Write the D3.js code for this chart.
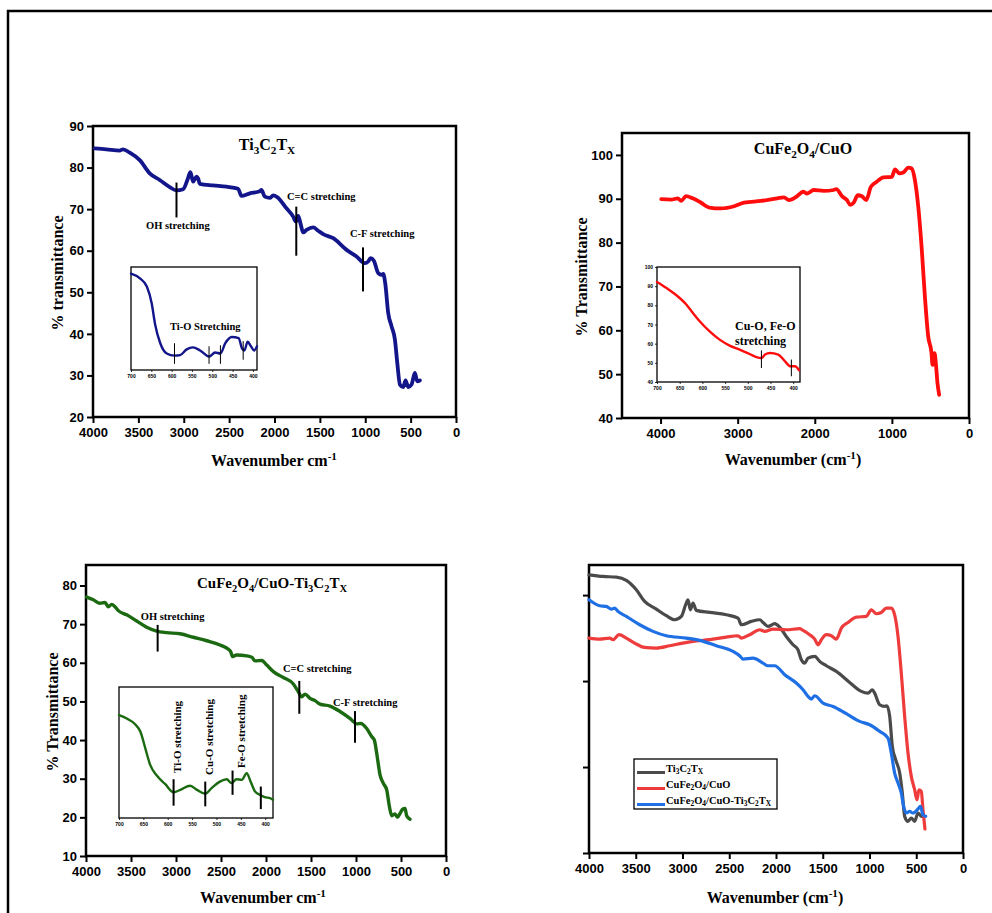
<!DOCTYPE html>
<html>
<head>
<meta charset="utf-8">
<script src="https://cdn.jsdelivr.net/npm/d3@7"></script>
<style>
  body { margin: 0; background: #fff; }
  svg { display: block; }
</style>
</head>
<body>
<svg id="chart" width="992" height="913"></svg>
<script>
// ---- data (wavenumber cm-1, % transmittance) ----
var tiSeries = [[3982,84.6],[3853,84.4],[3706,84.1],[3669,84.4],[3596,83.6],[3485,81.8],[3375,78.6],[3265,77.0],
  [3154,75.3],[3081,74.5],[3007,74.8],[2960,77.0],[2927,78.9],[2897,76.6],[2860,77.8],[2842,77.4],[2824,76.1],
  [2677,75.7],[2530,75.4],[2401,74.9],[2364,73.2],[2272,73.8],[2162,74.3],[2144,74.6],[2107,73.0],[2052,72.7],
  [2015,73.3],[1971,72.9],[1868,70.2],[1794,68.2],[1765,67.0],[1739,68.4],[1714,66.6],[1684,64.4],[1647,65.0],
  [1574,65.6],[1519,64.8],[1464,64.0],[1353,63.0],[1206,60.2],[1096,58.6],[1004,57.0],[967,57.4],[942,58.2],
  [905,57.6],[857,54.6],[820,54.2],[802,54.4],[780,52.2],[747,45.0],[710,41.8],[673,38.6],[647,33.0],[618,27.8],
  [581,27.2],[556,28.8],[526,27.2],[490,27.8],[453,30.6],[427,28.6],[398,28.8]];

var cfSeries = [[3991,89.9],[3862,89.8],[3776,90.1],[3733,89.5],[3669,90.6],[3583,90.1],[3475,89.1],[3368,88.0],
  [3217,87.8],[3045,88.3],[2916,89.1],[2701,89.5],[2486,90.1],[2400,90.3],[2335,89.7],[2228,90.6],[2151,91.6],
  [2099,91.2],[2013,92.0],[1884,91.8],[1755,92.0],[1720,92.2],[1647,90.6],[1583,89.7],[1540,88.6],[1497,89.1],
  [1441,90.8],[1389,90.6],[1333,89.7],[1273,92.7],[1196,93.9],[1110,94.9],[1002,95.0],[959,96.7],[903,95.8],
  [852,96.0],[787,97.1],[744,96.9],[701,94.2],[658,88.2],[615,79.1],[572,67.7],[529,58.6],[486,54.8],[473,52.1],
  [447,54.8],[430,52.5],[409,48.0],[387,45.3]];

var cftSeries = [[3993,77.0],[3919,76.3],[3844,75.4],[3789,75.6],[3752,74.5],[3715,75.1],[3678,74.5],[3641,73.5],
  [3548,72.4],[3437,70.8],[3326,69.2],[3215,68.2],[3104,67.8],[2955,67.5],[2807,66.6],[2659,65.7],[2511,64.6],
  [2418,63.5],[2393,62.9],[2370,61.6],[2326,62.0],[2215,61.8],[2155,61.4],[2122,60.5],[2048,60.6],[1992,59.4],
  [1918,57.7],[1807,56.2],[1696,54.5],[1641,52.5],[1603,51.2],[1566,51.9],[1511,50.8],[1455,50.2],[1400,49.3],
  [1289,48.8],[1178,47.4],[1067,45.6],[992,44.2],[948,44.3],[881,43.0],[826,40.9],[796,40.0],[770,36.6],
  [733,31.0],[696,28.8],[659,27.1],[629,22.8],[603,20.4],[566,20.9],[540,20.0],[511,21.0],[481,22.1],[455,22.3],
  [437,20.4],[400,19.5]];

// insets (low wavenumber region); relative intensity for the unlabelled ones
var tiInset = [[700,93.5],[678,89],[661,81],[649,64.5],[641,45],[628,26],[612,16],[593,14],[579,14.5],[563,20],
  [548,22],[530,19],[508,13],[493,17],[480,16],[468,26],[452,32],[435,31],[427,21],[421,19],[413,27.5],[405,23],
  [397,19],[390,23]];
var cfInset = [[700,92.2],[679,89.0],[657,85.2],[635,80.3],[621,76.0],[606,71.7],[584,66.4],[562,62.1],[540,59.0],
  [518,56.9],[496,54.6],[481,53.0],[470,52.5],[462,54.3],[451,55.1],[433,54.3],[418,50.8],[407,48.2],[396,48.2],
  [387,46.1]];
var cftInset = [[700,78.5],[684,75.9],[667,71.6],[656,65.8],[646,53.2],[636,40.5],[622,32.2],[605,25.8],[588,19.7],
  [574,21.5],[554,24.6],[540,21.5],[523,18.5],[510,22.8],[493,27.8],[479,29.6],[469,26.6],[459,29.6],[448,29.1],
  [438,34.2],[430,27.8],[421,20.3],[411,17.7],[401,15.9],[390,15.2],[384,13.9]];

// comparison panel (offset, arbitrary units)
var mixTi = [[4000,3.236],[3850,3.217],[3708,3.209],[3601,3.171],[3494,3.062],[3405,2.926],[3280,2.837],[3173,2.760],
  [3084,2.713],[3012,2.752],[2966,2.888],[2941,2.946],[2916,2.829],[2888,2.907],[2852,2.822],[2709,2.798],
  [2531,2.771],[2406,2.733],[2371,2.655],[2264,2.694],[2175,2.713],[2132,2.674],[2086,2.636],[2014,2.667],
  [1961,2.628],[1890,2.519],[1818,2.422],[1765,2.364],[1729,2.248],[1693,2.209],[1658,2.267],[1586,2.287],
  [1533,2.229],[1462,2.178],[1355,2.112],[1212,1.984],[1087,1.880],[1016,1.860],[970,1.899],[945,1.860],
  [891,1.725],[838,1.705],[813,1.713],[784,1.589],[756,1.240],[720,1.085],[677,0.930],[649,0.698],[624,0.426],
  [588,0.368],[553,0.407],[517,0.368],[481,0.465],[446,0.426],[410,0.426]];
var mixCf = [[4000,2.500],[3886,2.488],[3779,2.500],[3743,2.481],[3679,2.539],[3601,2.500],[3512,2.442],[3405,2.391],
  [3280,2.384],[3137,2.411],[2995,2.442],[2888,2.461],[2709,2.481],[2531,2.512],[2406,2.527],[2371,2.500],
  [2282,2.539],[2175,2.597],[2121,2.578],[2032,2.605],[1890,2.597],[1747,2.609],[1711,2.589],[1640,2.539],
  [1586,2.488],[1551,2.422],[1515,2.481],[1462,2.539],[1408,2.527],[1355,2.488],[1301,2.616],[1230,2.682],
  [1141,2.744],[1034,2.752],[980,2.829],[927,2.783],[874,2.798],[820,2.849],[767,2.849],[731,2.771],[695,2.519],
  [660,2.093],[624,1.589],[588,1.163],[553,0.891],[517,0.736],[492,0.620],[471,0.736],[446,0.717],[428,0.504],
  [407,0.279]];
var mixCft = [[4000,2.946],[3886,2.876],[3815,2.868],[3761,2.837],[3725,2.849],[3690,2.810],[3601,2.752],[3458,2.655],
  [3316,2.578],[3173,2.527],[2959,2.500],[2816,2.473],[2638,2.411],[2460,2.345],[2389,2.295],[2353,2.256],
  [2246,2.267],[2139,2.209],[2086,2.178],[2014,2.178],[1907,2.074],[1783,1.977],[1711,1.899],[1658,1.822],
  [1622,1.791],[1586,1.829],[1497,1.744],[1390,1.705],[1248,1.620],[1105,1.531],[998,1.492],[891,1.415],
  [802,1.337],[767,1.163],[731,0.930],[695,0.814],[660,0.698],[635,0.543],[606,0.465],[571,0.484],[535,0.465],
  [481,0.512],[456,0.543],[428,0.446],[399,0.426]];

// ticks
var xTicks500 = [4000, 3500, 3000, 2500, 2000, 1500, 1000, 500, 0];
var xTicks1000 = [4000, 3000, 2000, 1000, 0];
var yTicksTi = [20, 30, 40, 50, 60, 70, 80, 90];
var yTicksCf = [40, 50, 60, 70, 80, 90, 100];
var yTicksCft = [10, 20, 30, 40, 50, 60, 70, 80];
var yTicksMix = [0, 1, 2, 3];
var insetXTicks = [700, 650, 600, 550, 500, 450, 400];
var insetYTicksCf = [40, 50, 60, 70, 80, 90, 100];

// annotations: [label, wn, y1, y2, text wn, text y]
var tiNotes = [["OH stretching", 3080, 76.4, 68.0, 3416, 65.2],
               ["C=C stretching", 1760, 70.6, 58.8, 1862, 72.1],
               ["C-F stretching", 1025, 60.8, 50.2, 1168, 63.2]];
var cftNotes = [["OH stretching", 3204, 69.8, 62.9, 3392, 71.1],
                ["C=C stretching", 1630, 55.3, 46.8, 1811, 57.5],
                ["C-F stretching", 1011, 47.5, 39.3, 1256, 48.8]];
var tiInsetMarks = [[593, 26, 6], [508, 23, 6], [480, 24, 6], [424, 28, 10]];
var cfInsetMarks = [[470, 56.5, 47.3], [404, 51.7, 43]];
var cftInsetMarks = [[588, 29.6, 9.4], [523, 27.8, 8.9], [467, 36.2, 17.7], [409, 24, 6.8]];
var cftInsetLabels = [["Ti-O stretching", 573, 34.4], ["Cu-O  stretching", 507, 32.9], ["Fe-O stretching", 442, 38.2]];

var legendNames = ["Ti_{3}C_{2}T_{X}", "CuFe_{2}O_{4}/CuO", "CuFe_{2}O_{4}/CuO-Ti_{3}C_{2}T_{X}"];

var SERIF = "'Times New Roman', 'Liberation Serif', serif";
var SANS = "Arial, 'Liberation Sans', sans-serif";

var svg = d3.select("#chart");
svg.append("rect").attr("width", 992).attr("height", 913).attr("fill", "#fff");
svg.append("path").attr("d", "M8,913 V11 H992").attr("fill", "none").attr("stroke", "#000").attr("stroke-width", 2.5);

// text with _{sub} and ^{sup}
function rich(sel, str, size) {
  var parts = str.match(/(_\{[^}]*\}|\^\{[^}]*\}|[^_^]+)/g);
  var shift = 0;
  parts.forEach(function(p) {
    var kind = p[0] == "_" ? 1 : p[0] == "^" ? 2 : 0;
    var txt = kind ? p.slice(2, -1) : p;
    var s = kind == 1 ? size * 0.28 : kind == 2 ? -size * 0.38 : 0;
    sel.append("tspan").attr("dy", s - shift).attr("font-size", kind ? size * 0.7 : size).text(txt);
    shift = s;
  });
  return sel;
}

function styleAxis(g, size) {
  g.select(".domain").remove();
  g.selectAll(".tick line").attr("stroke", "#000").attr("stroke-width", 2);
  g.selectAll(".tick text").attr("fill", "#000").style("font-family", SANS)
    .style("font-weight", "bold").style("font-size", size + "px");
}

function panel(box, xDom, yDom, xTicks, yTicks, showY) {
  var x = d3.scaleLinear().domain(xDom).range([box.l, box.r]);
  var y = d3.scaleLinear().domain(yDom).range([box.b, box.t]);
  var g = svg.append("g");
  g.append("g").attr("transform", "translate(0," + box.b + ")")
    .call(d3.axisBottom(x).tickValues(xTicks).tickSize(6).tickPadding(5).tickSizeOuter(0).tickFormat(d3.format("d")))
    .call(function(a) { styleAxis(a, 13); });
  g.append("g").attr("transform", "translate(" + box.l + ",0)")
    .call(d3.axisLeft(y).tickValues(yTicks).tickSize(6).tickPadding(3).tickSizeOuter(0)
      .tickFormat(showY ? d3.format("d") : function() { return ""; }))
    .call(function(a) { styleAxis(a, 13); });
  g.append("rect").attr("x", box.l).attr("y", box.t).attr("width", box.r - box.l).attr("height", box.b - box.t)
    .attr("fill", "none").attr("stroke", "#000").attr("stroke-width", 2.5);
  return {g: g, x: x, y: y};
}

function curve(p, data, color, width) {
  var line = d3.line().x(function(d) { return p.x(d[0]); }).y(function(d) { return p.y(d[1]); })
    .curve(d3.curveMonotoneX);
  p.g.append("path").attr("d", line(data)).attr("fill", "none").attr("stroke", color)
    .attr("stroke-width", width).attr("stroke-linejoin", "round").attr("stroke-linecap", "round");
}

function label(p, str, cx, cy, size, anchor, rotate) {
  var t = p.g.append("text").attr("font-family", SERIF).attr("font-weight", "bold")
    .attr("fill", "#000").attr("text-anchor", anchor || "middle");
  if (rotate) t.attr("transform", "translate(" + cx + "," + cy + ") rotate(-90)");
  else t.attr("x", cx).attr("y", cy);
  return rich(t, str, size);
}

function notes(p, list, size) {
  list.forEach(function(n) {
    p.g.append("line").attr("x1", p.x(n[1])).attr("x2", p.x(n[1])).attr("y1", p.y(n[2])).attr("y2", p.y(n[3]))
      .attr("stroke", "#000").attr("stroke-width", 2);
    label(p, n[0], p.x(n[4]), p.y(n[5]), size, "start");
  });
}

function panel0(box, xDom, yDom) {
  return {g: svg.append("g"),
          x: d3.scaleLinear().domain(xDom).range([box.l, box.r]),
          y: d3.scaleLinear().domain(yDom).range([box.b, box.t])};
}

function inset(box, xDom, yDom, data, color, yTicks) {
  var p = panel0(box, xDom, yDom);
  p.g.append("rect").attr("x", box.l).attr("y", box.t).attr("width", box.r - box.l).attr("height", box.b - box.t)
    .attr("fill", "#fff").attr("stroke", "#000").attr("stroke-width", 1.3);
  var ax = p.g.append("g").attr("transform", "translate(0," + box.b + ")")
    .call(d3.axisBottom(p.x).tickValues(insetXTicks).tickSize(2).tickPadding(2).tickSizeOuter(0));
  styleAxis(ax, 5);
  ax.selectAll(".tick line").attr("stroke-width", 0.8);
  if (yTicks) {
    var ay = p.g.append("g").attr("transform", "translate(" + box.l + ",0)")
      .call(d3.axisLeft(p.y).tickValues(yTicks).tickSize(2).tickPadding(2).tickSizeOuter(0));
    styleAxis(ay, 5);
    ay.selectAll(".tick line").attr("stroke-width", 0.8);
  }
  curve(p, data, color, 2.4);
  return p;
}

function marks(p, list, w) {
  list.forEach(function(m) {
    p.g.append("line").attr("x1", p.x(m[0])).attr("x2", p.x(m[0])).attr("y1", p.y(m[1])).attr("y2", p.y(m[2]))
      .attr("stroke", "#000").attr("stroke-width", w);
  });
}

// ---- panel 1: Ti3C2Tx ----
var p1 = panel({l: 93, r: 456, t: 126, b: 417}, [4000, 0], [20, 90], xTicks500, yTicksTi, true);
curve(p1, tiSeries, "#13168a", 3.8);
label(p1, "Ti_{3}C_{2}T_{X}", 267, 150, 16);
notes(p1, tiNotes, 10.5);
label(p1, "Wavenumber cm^{-1}", 274, 466, 16);
label(p1, "% transmittance", 63, 273, 16, "middle", true);
var i1 = inset({l: 131, r: 257, t: 267, b: 370}, [700, 390], [0, 100], tiInset, "#13168a");
marks(i1, tiInsetMarks, 1);
label(i1, "Ti-O Stretching", 170, 330, 10.5, "start");

// ---- panel 2: CuFe2O4/CuO ----
var p2 = panel({l: 622, r: 969, t: 133, b: 418}, [4500, 0], [40, 105], xTicks1000, yTicksCf, true);
curve(p2, cfSeries, "#ff0d0d", 3.8);
label(p2, "CuFe_{2}O_{4}/CuO", 803, 154, 16);
label(p2, "Wavenumber (cm^{-1})", 793, 465, 16);
label(p2, "% Transmittance", 587, 277, 16, "middle", true);
var i2 = inset({l: 657, r: 800, t: 267, b: 382}, [700, 385], [40, 100], cfInset, "#ff0d0d", insetYTicksCf);
marks(i2, cfInsetMarks, 1);
label(i2, "Cu-O, Fe-O", 735, 330, 12, "start");
label(i2, "stretching", 735, 345, 12, "start");

// ---- panel 3: CuFe2O4/CuO-Ti3C2Tx ----
var p3 = panel({l: 86, r: 446, t: 565, b: 856}, [4000, 0], [10, 85.3], xTicks500, yTicksCft, true);
curve(p3, cftSeries, "#1b6a12", 3.4);
label(p3, "CuFe_{2}O_{4}/CuO-Ti_{3}C_{2}T_{X}", 272, 588, 15);
notes(p3, cftNotes, 10.5);
label(p3, "Wavenumber cm^{-1}", 263, 903, 16);
label(p3, "% Transmittance", 58, 712, 16, "middle", true);
var i3 = inset({l: 119, r: 273, t: 687, b: 818}, [700, 384], [0, 100], cftInset, "#1b6a12");
marks(i3, cftInsetMarks, 2);
cftInsetLabels.forEach(function(l) {
  label(i3, l[0], i3.x(l[1]), i3.y(l[2]), 11, "start", true);
});

// ---- panel 4: comparison ----
var p4 = panel({l: 589, r: 963, t: 565, b: 853}, [4000, 0], [0, 3.35], xTicks500, yTicksMix, false);
var mixColors = ["#4a4a4a", "#ee3b3b", "#1f6fe5"];
curve(p4, mixTi, mixColors[0], 3.2);
curve(p4, mixCf, mixColors[1], 3.2);
curve(p4, mixCft, mixColors[2], 3.2);
label(p4, "Wavenumber (cm^{-1})", 775, 903, 16);
var leg = p4.g.append("g");
leg.append("rect").attr("x", 634).attr("y", 759).attr("width", 143).attr("height", 50)
  .attr("fill", "#fff").attr("stroke", "#000").attr("stroke-width", 1.3);
legendNames.forEach(function(n, i) {
  var yy = 772.5 + i * 16;
  leg.append("line").attr("x1", 637).attr("x2", 665).attr("y1", yy).attr("y2", yy)
    .attr("stroke", mixColors[i]).attr("stroke-width", 3);
  var t = leg.append("text").attr("x", 666).attr("y", yy - 1).attr("font-family", SERIF)
    .attr("font-weight", "bold").attr("fill", "#000");
  rich(t, n, 10.5);
});
</script>
</body>
</html>
